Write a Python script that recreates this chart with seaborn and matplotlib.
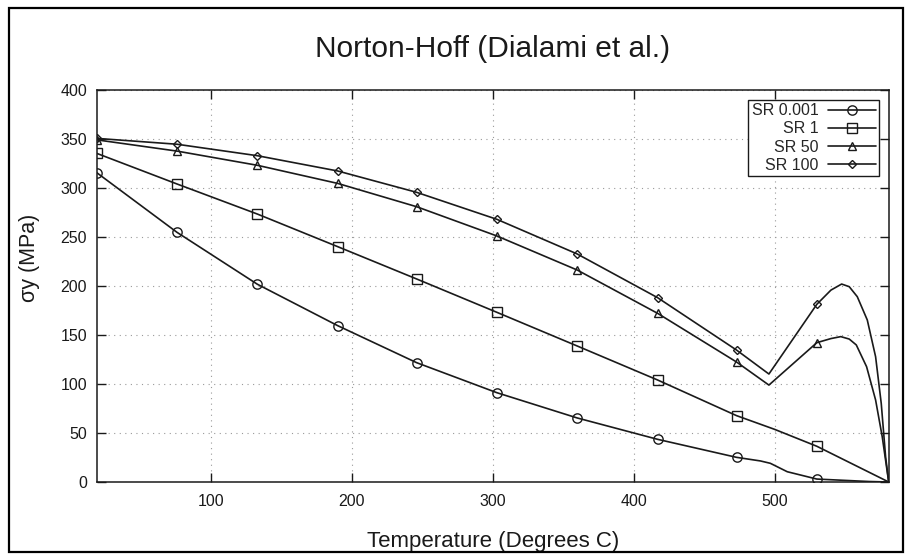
import matplotlib
matplotlib.use("Agg")
import matplotlib.pyplot as plt
from matplotlib.lines import Line2D
from matplotlib.patches import Rectangle
import seaborn as sns

# ---- data ----
title = "Norton-Hoff (Dialami et al.)"
x_label = "Temperature (Degrees C)"
y_label = "σy (MPa)"
series_names = ["SR 0.001", "SR 1", "SR 50", "SR 100"]

t_sr0001 = [19, 76, 133, 190, 246, 303, 360, 417, 473, 490, 497, 509, 530, 567, 581]
s_sr0001 = [316, 255, 202, 159.7, 121.9, 91.2, 65.4, 43.6, 25.2, 21.5, 19.1, 10.5, 3, 0.5, 0]
m_sr0001 = [0, 1, 2, 3, 4, 5, 6, 7, 8, 12]

t_sr1 = [19, 76, 133, 190, 246, 303, 360, 417, 473, 500, 530, 581]
s_sr1 = [335.7, 304.4, 273.7, 240.4, 207.4, 173.3, 138.9, 104.2, 67.8, 53.8, 36.5, 0]
m_sr1 = [0, 1, 2, 3, 4, 5, 6, 7, 8, 10]

t_sr50 = [19, 76, 133, 190, 246, 303, 360, 417, 473, 496, 530, 540, 547, 553, 558, 565.3, 571.7, 576.4, 581]
s_sr50 = [349.5, 338, 323.5, 305, 281.2, 251.3, 216.5, 172.3, 122.6, 99, 142.3, 146.5, 148.5, 146, 140, 117.8, 83.8, 46.3, 0]
m_sr50 = [0, 1, 2, 3, 4, 5, 6, 7, 8, 10]

t_sr100 = [19, 76, 133, 190, 246, 303, 360, 417, 473, 496, 530, 540, 547.6, 553, 558.7, 565.8, 571.7, 575.7, 578.8, 581]
s_sr100 = [351, 345, 333.3, 317.7, 295.9, 268.3, 232.9, 188.3, 134.8, 110.3, 181.5, 196, 202.2, 199.5, 189.3, 165.5, 128, 80.4, 25.8, 0]
m_sr100 = [0, 1, 2, 3, 4, 5, 6, 7, 8, 10]

x_ticks = [100, 200, 300, 400, 500]
y_ticks = [0, 50, 100, 150, 200, 250, 300, 350, 400]

# ---- style ----
sns.set_style("ticks")
plt.rcParams["font.family"] = ["Liberation Sans", "DejaVu Sans"]

ink = "#1a1a1a"
fig = plt.figure(figsize=(9.06, 5.54), dpi=100)
ax = fig.add_axes([96.7 / 906, 72 / 554, 792 / 906, 391.6 / 554])

series = [
    (t_sr0001, s_sr0001, m_sr0001, "o", 6.7),
    (t_sr1, s_sr1, m_sr1, "s", 6.5),
    (t_sr50, s_sr50, m_sr50, "^", 5.6),
    (t_sr100, s_sr100, m_sr100, "D", 4.3),
]

handles = []
for name, (tx, sy, mk, marker, ms) in zip(series_names, series):
    sns.lineplot(x=tx, y=sy, ax=ax, sort=False, estimator=None, color=ink,
                 linewidth=1.2, marker=marker, markersize=ms, markevery=mk,
                 markerfacecolor="none", markeredgecolor=ink, markeredgewidth=1.0,
                 zorder=3)
    handles.append(Line2D([], [], color=ink, linewidth=1.2, marker=marker, markersize=ms,
                          markerfacecolor="none", markeredgecolor=ink, markeredgewidth=1.0,
                          label=name))

ax.set_xlim(19, 581)
ax.set_ylim(0, 400)
ax.set_xticks(x_ticks)
ax.set_yticks(y_ticks)
ax.grid(True, color="#9a9a9a", linestyle=(0, (1, 4)), linewidth=0.8)
ax.tick_params(direction="in", length=6.5, width=1.0, top=True, right=True,
               labelsize=11.5, colors=ink, pad=7)
ax.tick_params(axis="x", pad=9)
for sp in ax.spines.values():
    sp.set_linewidth(1.1)
    sp.set_color(ink)
    sp.set_visible(True)

ax.set_xlabel(x_label, fontsize=16, color=ink, va="center")
ax.xaxis.set_label_coords(0.5, (482 - 541) / 391.6)
ax.set_ylabel(y_label, fontsize=15.5, color=ink, va="center")
ax.yaxis.set_label_coords((29 - 96.7) / 792, (482 - 258) / 391.6)
ax.set_title(title, fontsize=21.5, color=ink, y=(482 - 56.7) / 391.6, pad=0, va="baseline")

leg = ax.legend(handles=handles, loc="upper right", markerfirst=False, fontsize=11.5,
                frameon=True, fancybox=False, framealpha=1, edgecolor=ink,
                borderpad=0.2, labelspacing=0.2, handletextpad=0.6, handlelength=3.0,
                borderaxespad=0.6)
leg.get_frame().set_linewidth(1.0)
leg.set_zorder(5)

fig.patches.append(Rectangle((9 / 906, 2 / 554), 894 / 906, 544 / 554,
                             transform=fig.transFigure, fill=False,
                             edgecolor="black", linewidth=1.6))

fig.savefig("out.png", dpi=100)
